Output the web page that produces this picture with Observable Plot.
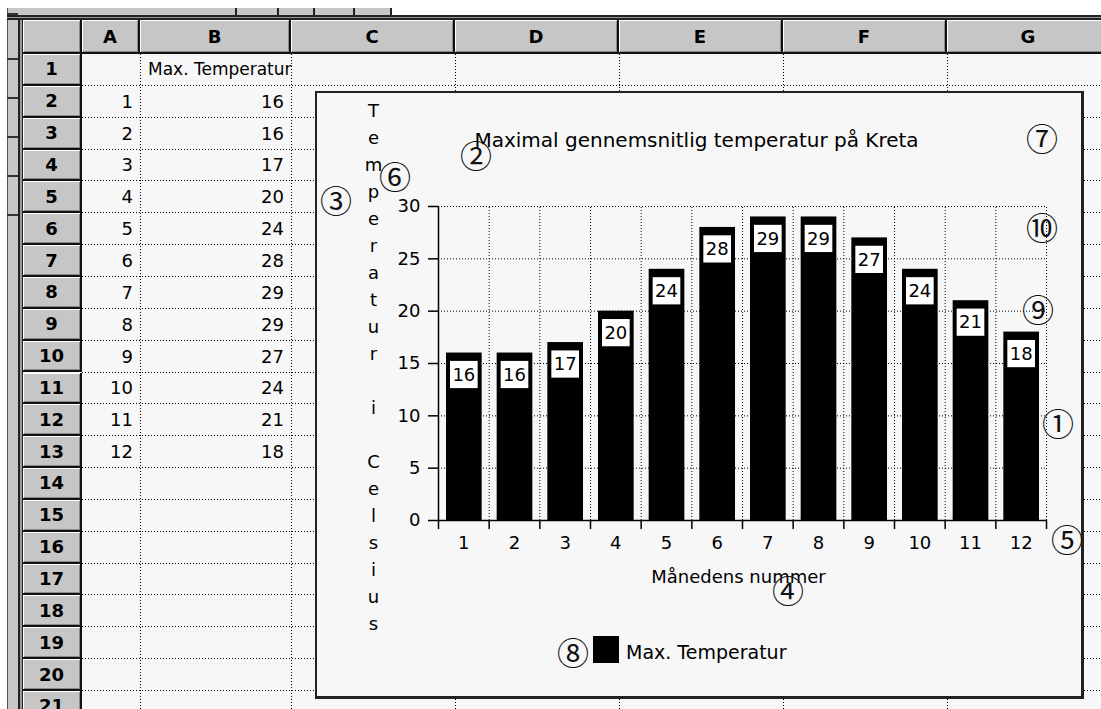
<!DOCTYPE html>
<html>
<head>
<meta charset="utf-8">
<script src="https://cdn.jsdelivr.net/npm/d3@7"></script>
<script src="https://cdn.jsdelivr.net/npm/@observablehq/plot@0.6"></script>
<style>
  html, body { margin: 0; padding: 0; width: 1101px; height: 709px; overflow: hidden; background: #ffffff; }
  #page { position: relative; width: 1101px; height: 709px; font-family: "DejaVu Sans", sans-serif; color: #000; }
  .abs { position: absolute; }
  .hdr { position: absolute; background: #c6c6c6; box-sizing: border-box;
         box-shadow: inset 1px 1px 0 #ffffff, inset -1px -1px 0 #8a8a8a;
         font-weight: bold; font-size: 18px; display: flex; align-items: center; justify-content: center; }
  .cell { position: absolute; font-size: 18px; line-height: 1; display: flex; align-items: center; box-sizing: border-box; }
  .hline { position: absolute; height: 1px; background: repeating-linear-gradient(to right, #000 0 1px, transparent 1px 3px); }
  .vline { position: absolute; width: 1px; background: repeating-linear-gradient(to bottom, #000 0 1px, transparent 1px 3px); }
  .circ { position: absolute; font-family: "Noto Sans CJK JP", "DejaVu Sans", sans-serif; font-size: 32px; line-height: 1; transform: translate(-50%, -60%); color: #111; }
</style>
</head>
<body>
<div id="page"></div>
<script>
// ---- data ----
const months = [1, 2, 3, 4, 5, 6, 7, 8, 9, 10, 11, 12];
const temps = [16, 16, 17, 20, 24, 28, 29, 29, 27, 24, 21, 18];
const yTicks = [0, 5, 10, 15, 20, 25, 30];
const colLetters = ["A", "B", "C", "D", "E", "F", "G"];
const seriesName = "Max. Temperatur";
const chartTitle = "Maximal gennemsnitlig temperatur på Kreta";
const xTitle = "Månedens nummer";
const yTitle = "Temperatur i Celsius";
const annotations = ["①", "②", "③", "④", "⑤", "⑥", "⑦", "⑧", "⑨", "⑩"];

// ---- layout (spreadsheet geometry) ----
const colEdges = [82, 140, 291, 455, 619, 783, 947, 1111];
const rowTop = 54, rowH = 31.85, nRows = 21;
const page = document.getElementById("page");
function el(cls, style, text) {
  const d = document.createElement("div");
  d.className = cls;
  Object.assign(d.style, style);
  if (text != null) d.textContent = text;
  page.appendChild(d);
  return d;
}
// cell area background
el("abs", {left: "23px", top: "20px", width: "1078px", height: "689px", background: "#f7f7f7"});
// window chrome: left strip
el("abs", {left: "7px", top: "8px", width: "11px", height: "701px", background: "#c6c6c6", borderLeft: "1px solid #555"});
[13, 58, 97, 136, 175, 214].forEach(y => el("abs", {left: "7px", top: y + "px", width: "11px", height: "2px", background: "#333"}));
el("abs", {left: "18px", top: "16px", width: "5px", height: "693px", background: "#999", borderLeft: "2px solid #222", borderRight: "1px solid #222", boxSizing: "border-box"});
// top strip
el("abs", {left: "18px", top: "8px", width: "217px", height: "8px", background: "#c6c6c6"});
[235, 277, 313, 353].forEach((x, i, a) => el("abs", {left: x + "px", top: "8px", width: ((a[i + 1] || 392) - x) + "px", height: "8px", background: "#c6c6c6", borderLeft: "2px solid #222", boxSizing: "border-box"}));
el("abs", {left: "390px", top: "8px", width: "2px", height: "8px", background: "#222"});
el("abs", {left: "7px", top: "15px", width: "1094px", height: "5px", background: "#999", borderTop: "2px solid #222", borderBottom: "2px solid #222", boxSizing: "border-box"});

// column headers
el("hdr", {left: "23px", top: "20px", width: "59px", height: "34px", borderRight: "2px solid #111", borderBottom: "2px solid #111"});
colLetters.forEach((c, i) => {
  el("hdr", {left: colEdges[i] + "px", top: "20px", width: (colEdges[i + 1] - colEdges[i]) + "px", height: "34px",
             borderRight: "2px solid #111", borderBottom: "2px solid #111"}, c);
});
// row headers
for (let r = 1; r <= nRows; r++) {
  el("hdr", {left: "23px", top: (rowTop + (r - 1) * rowH) + "px", width: "59px", height: rowH + "px",
             borderRight: "2px solid #111", borderBottom: "2px solid #111"}, String(r));
}
// dotted cell grid
for (let r = 1; r <= nRows; r++) {
  el("hline", {left: "82px", top: (rowTop + r * rowH - 1) + "px", width: "1019px"});
}
colEdges.slice(1, -1).forEach(x => el("vline", {left: x + "px", top: "54px", height: "655px"}));
// cell contents
el("cell", {left: "140px", top: rowTop + "px", width: "200px", height: rowH + "px", paddingLeft: "8px", whiteSpace: "nowrap", fontSize: "17px"}, seriesName);
months.forEach((m, i) => {
  const top = rowTop + (i + 1) * rowH;
  el("cell", {left: "82px", top: top + "px", width: "58px", height: rowH + "px", justifyContent: "flex-end", paddingRight: "7px"}, String(m));
  el("cell", {left: "140px", top: top + "px", width: "151px", height: rowH + "px", justifyContent: "flex-end", paddingRight: "7px"}, String(temps[i]));
});

// ---- chart box ----
el("abs", {left: "315px", top: "91px", width: "769px", height: "608px", background: "#f7f7f7",
           borderTop: "2px solid #222", borderLeft: "2px solid #222", borderRight: "3px solid #222", borderBottom: "3px solid #222", boxSizing: "border-box"});

const data = months.map((m, i) => ({month: m, temp: temps[i]}));
const bounds = [months[0] - 0.5, ...months.map(m => m + 0.5)];

const chart = Plot.plot({
  width: 764,
  height: 603,
  marginLeft: 121,
  marginRight: 35,
  marginTop: 113,
  marginBottom: 176,
  x: {domain: [bounds[0], bounds[bounds.length - 1]]},
  y: {domain: [0, 30]},
  style: {background: "transparent", fontFamily: "DejaVu Sans, sans-serif", fontSize: "18px", color: "#000", overflow: "visible"},
  marks: [
    Plot.gridY({ticks: yTicks.slice(1), stroke: "#000", strokeOpacity: 1, strokeDasharray: "1,2"}),
    Plot.ruleX(bounds.slice(1), {y1: 0, y2: 30, stroke: "#000", strokeDasharray: "1,2"}),
    Plot.rectY(data, {x1: d => d.month - 0.5, x2: d => d.month + 0.5, y: "temp", fill: "#000", insetLeft: 8, insetRight: 7}),
    Plot.rect(data, {x1: d => d.month - 0.5, x2: d => d.month + 0.5, y1: d => d.temp - 3.4, y2: d => d.temp - 0.8, fill: "#fff", insetLeft: 12, insetRight: 11}),
    Plot.text(data, {x: "month", y: d => d.temp - 2.1, text: d => String(d.temp), fontSize: 18, fill: "#000"}),
    Plot.ruleX([bounds[0]], {y1: 0, y2: 30, stroke: "#000", strokeWidth: 1.5}),
    Plot.ruleY([0], {stroke: "#000", strokeWidth: 1.5}),
    Plot.axisY({ticks: yTicks, tickSize: 10, tickPadding: 8, label: null, strokeWidth: 1.5}),
    Plot.axisX({ticks: bounds, tickSize: 9, tickFormat: () => "", label: null, strokeWidth: 1.5}),
    Plot.axisX({ticks: months, tickSize: 0, tickPadding: 16, label: null}),
    Plot.text([xTitle], {frameAnchor: "bottom", lineAnchor: "middle", dy: 57, dx: -4, fontSize: 18}),
    Plot.text([chartTitle], {frameAnchor: "top", lineAnchor: "middle", dy: -66, dx: -46, fontSize: 20}),
    Plot.text([yTitle.split("").join("\n")], {frameAnchor: "left", lineAnchor: "middle", dx: -65, dy: 1, lineHeight: 1.5, textAnchor: "middle", fontSize: 18})
  ]
});
Object.assign(chart.style, {position: "absolute", left: "317px", top: "93px"});
page.appendChild(chart);

// legend
el("abs", {left: "593px", top: "636px", width: "26px", height: "27px", background: "#000"});
el("abs", {left: "626px", top: "652px", transform: "translateY(-50%)", fontSize: "19px", lineHeight: "1", whiteSpace: "nowrap"}, seriesName);

// circled annotation markers (layout positions)
const markerPos = [[1058, 425], [476, 157], [336, 202], [788, 592], [1067, 541], [395, 178], [1042, 140], [573, 654], [1038, 311], [1042, 229]];
annotations.forEach((t, i) => el("circ", {left: markerPos[i][0] + "px", top: markerPos[i][1] + "px"}, t));
</script>
</body>
</html>
